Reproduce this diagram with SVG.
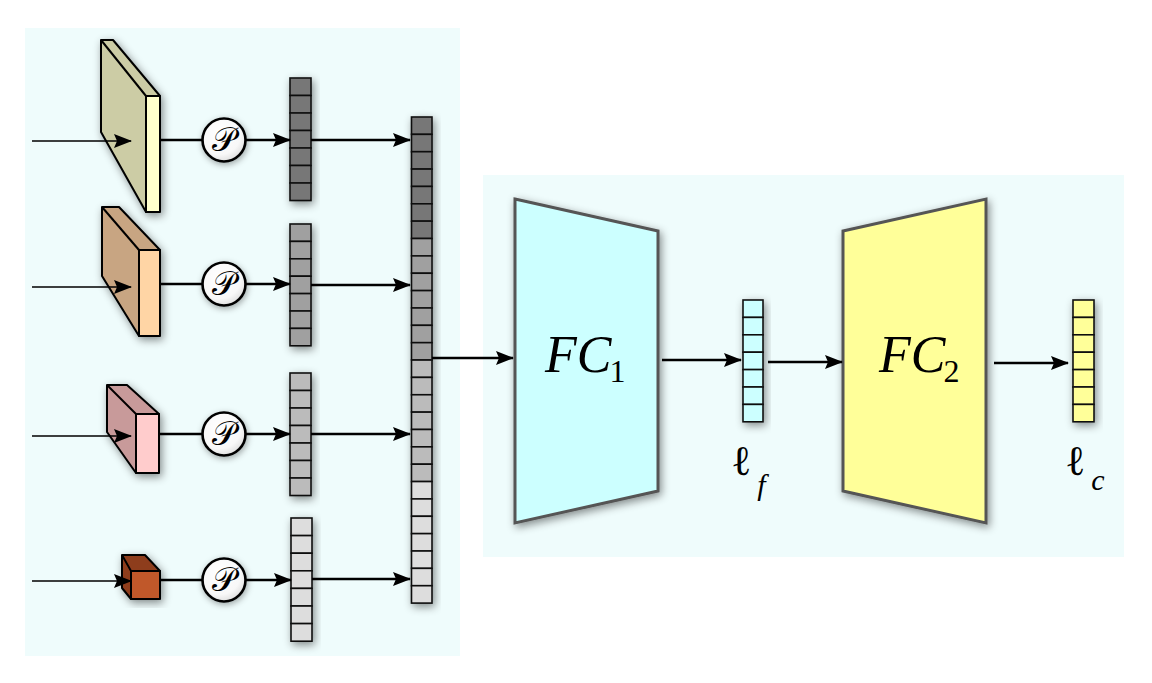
<svg xmlns="http://www.w3.org/2000/svg" width="1152" height="683" viewBox="0 0 1152 683">
<defs>
  <filter id="sh" x="-40%" y="-20%" width="180%" height="140%">
    <feDropShadow dx="2" dy="3" stdDeviation="4" flood-color="#000" flood-opacity="0.45"/>
  </filter>
  <filter id="shs" x="-40%" y="-40%" width="180%" height="180%">
    <feDropShadow dx="1" dy="2" stdDeviation="3" flood-color="#000" flood-opacity="0.35"/>
  </filter>
  <radialGradient id="cg" cx="40%" cy="35%" r="70%">
    <stop offset="0" stop-color="#ffffff"/>
    <stop offset="0.7" stop-color="#f8f8f8"/>
    <stop offset="1" stop-color="#dcdcdc"/>
  </radialGradient>
  <marker id="ahb" markerWidth="18" markerHeight="16" refX="17" refY="8" orient="auto" markerUnits="userSpaceOnUse" viewBox="0 0 18 16">
    <path d="M0,1 L18,8 L0,15 L3,8 Z" fill="#000"/>
  </marker>
</defs>
<style>
  .bg{fill:#effcfc}
  .blk{stroke:#000;stroke-width:2;stroke-linejoin:round}
  .cell{stroke:#111;stroke-width:1.6}
  .ln{stroke:#000;stroke-width:2.6;fill:none}
  .ln1{stroke:#000;stroke-width:1.6;fill:none}
  .pc{fill:url(#cg);stroke:#000;stroke-width:2.6}
  .trap{stroke:#555;stroke-width:3;stroke-linejoin:miter}
  .ser{font-family:'Liberation Serif','DejaVu Serif',serif;fill:#000}
  .pp{font-family:'DejaVu Serif','Liberation Serif',serif;font-size:33px;fill:#000}
</style>

<rect class="bg" x="25" y="28" width="435" height="628"/>
<rect class="bg" x="483" y="175" width="641" height="382"/>

<!-- blocks -->
<g id="block1" filter="url(#sh)">
  <polygon class="blk" fill="#cccca5" points="101,40 113,40 160,96 146,96 146,212 101,132"/>
  <line class="blk" x1="101" y1="40" x2="146" y2="96"/>
  <rect class="blk" fill="#ffffcc" x="146" y="96" width="14" height="116"/>
</g>
<g id="block2" filter="url(#sh)">
  <polygon class="blk" fill="#c8a582" points="102,207 119,207 160,250 139,250 139,336 102,276"/>
  <line class="blk" x1="102" y1="207" x2="139" y2="250"/>
  <rect class="blk" fill="#ffd5a5" x="139" y="250" width="21" height="86"/>
</g>
<g id="block3" filter="url(#sh)">
  <polygon class="blk" fill="#c89a9a" points="107,385 127,385 159,414 136,414 136,473 107,432"/>
  <line class="blk" x1="107" y1="385" x2="136" y2="414"/>
  <rect class="blk" fill="#ffcccc" x="136" y="414" width="23" height="59"/>
</g>
<g id="block4" filter="url(#sh)">
  <polygon class="blk" fill="#8e3d1f" points="122,555 145,555 160,571 131,571 131,599 122,588"/>
  <line class="blk" x1="122" y1="555" x2="131" y2="571"/>
  <rect class="blk" fill="#c0582a" x="131" y="571" width="29" height="28"/>
</g>

<!-- pooling circles -->
<g id="pool1"><circle class="pc" cx="224" cy="140" r="21.5" filter="url(#shs)"/><text class="pp" x="224" y="151" text-anchor="middle">𝒫</text></g>
<g id="pool2"><circle class="pc" cx="224" cy="284" r="21.5" filter="url(#shs)"/><text class="pp" x="224" y="295" text-anchor="middle">𝒫</text></g>
<g id="pool3"><circle class="pc" cx="224" cy="434" r="21.5" filter="url(#shs)"/><text class="pp" x="224" y="445" text-anchor="middle">𝒫</text></g>
<g id="pool4"><circle class="pc" cx="224" cy="580" r="21.5" filter="url(#shs)"/><text class="pp" x="224" y="591" text-anchor="middle">𝒫</text></g>

<!-- vectors -->
<g id="vec1" filter="url(#sh)" fill="#777777">
  <rect class="cell" x="290" y="78" width="21" height="17.5"/><rect class="cell" x="290" y="95.5" width="21" height="17.5"/><rect class="cell" x="290" y="113" width="21" height="17.5"/><rect class="cell" x="290" y="130.5" width="21" height="17.5"/><rect class="cell" x="290" y="148" width="21" height="17.5"/><rect class="cell" x="290" y="165.5" width="21" height="17.5"/><rect class="cell" x="290" y="183" width="21" height="17.5"/>
</g>
<g id="vec2" filter="url(#sh)" fill="#a0a0a0">
  <rect class="cell" x="290" y="224" width="21" height="17.4"/><rect class="cell" x="290" y="241.4" width="21" height="17.4"/><rect class="cell" x="290" y="258.8" width="21" height="17.4"/><rect class="cell" x="290" y="276.2" width="21" height="17.4"/><rect class="cell" x="290" y="293.6" width="21" height="17.4"/><rect class="cell" x="290" y="311" width="21" height="17.4"/><rect class="cell" x="290" y="328.4" width="21" height="17.4"/>
</g>
<g id="vec3" filter="url(#sh)" fill="#bbbbbb">
  <rect class="cell" x="290" y="373" width="21" height="17.5"/><rect class="cell" x="290" y="390.5" width="21" height="17.5"/><rect class="cell" x="290" y="408" width="21" height="17.5"/><rect class="cell" x="290" y="425.5" width="21" height="17.5"/><rect class="cell" x="290" y="443" width="21" height="17.5"/><rect class="cell" x="290" y="460.5" width="21" height="17.5"/><rect class="cell" x="290" y="478" width="21" height="17.5"/>
</g>
<g id="vec4" filter="url(#sh)" fill="#dddddd">
  <rect class="cell" x="291" y="518" width="21" height="17.6"/><rect class="cell" x="291" y="535.6" width="21" height="17.6"/><rect class="cell" x="291" y="553.2" width="21" height="17.6"/><rect class="cell" x="291" y="570.8" width="21" height="17.6"/><rect class="cell" x="291" y="588.4" width="21" height="17.6"/><rect class="cell" x="291" y="606" width="21" height="17.6"/><rect class="cell" x="291" y="623.6" width="21" height="17.6"/>
</g>

<!-- concatenated vector -->
<g id="concat" filter="url(#sh)">
  <g fill="#777777">
    <rect class="cell" x="411.5" y="117" width="20.5" height="17.36"/><rect class="cell" x="411.5" y="134.36" width="20.5" height="17.36"/><rect class="cell" x="411.5" y="151.72" width="20.5" height="17.36"/><rect class="cell" x="411.5" y="169.08" width="20.5" height="17.36"/><rect class="cell" x="411.5" y="186.44" width="20.5" height="17.36"/><rect class="cell" x="411.5" y="203.8" width="20.5" height="17.36"/><rect class="cell" x="411.5" y="221.16" width="20.5" height="17.36"/>
  </g>
  <g fill="#a0a0a0">
    <rect class="cell" x="411.5" y="238.52" width="20.5" height="17.36"/><rect class="cell" x="411.5" y="255.88" width="20.5" height="17.36"/><rect class="cell" x="411.5" y="273.24" width="20.5" height="17.36"/><rect class="cell" x="411.5" y="290.6" width="20.5" height="17.36"/><rect class="cell" x="411.5" y="307.96" width="20.5" height="17.36"/><rect class="cell" x="411.5" y="325.32" width="20.5" height="17.36"/><rect class="cell" x="411.5" y="342.68" width="20.5" height="17.36"/>
  </g>
  <g fill="#bbbbbb">
    <rect class="cell" x="411.5" y="360.04" width="20.5" height="17.36"/><rect class="cell" x="411.5" y="377.4" width="20.5" height="17.36"/><rect class="cell" x="411.5" y="394.76" width="20.5" height="17.36"/><rect class="cell" x="411.5" y="412.12" width="20.5" height="17.36"/><rect class="cell" x="411.5" y="429.48" width="20.5" height="17.36"/><rect class="cell" x="411.5" y="446.84" width="20.5" height="17.36"/><rect class="cell" x="411.5" y="464.2" width="20.5" height="17.36"/>
  </g>
  <g fill="#dddddd">
    <rect class="cell" x="411.5" y="481.56" width="20.5" height="17.36"/><rect class="cell" x="411.5" y="498.92" width="20.5" height="17.36"/><rect class="cell" x="411.5" y="516.28" width="20.5" height="17.36"/><rect class="cell" x="411.5" y="533.64" width="20.5" height="17.36"/><rect class="cell" x="411.5" y="551" width="20.5" height="17.36"/><rect class="cell" x="411.5" y="568.36" width="20.5" height="17.36"/><rect class="cell" x="411.5" y="585.72" width="20.5" height="17.36"/>
  </g>
</g>

<!-- FC1 -->
<g id="fc1">
  <polygon class="trap" fill="#ccffff" points="515,199 658,231 658,491 515,523" filter="url(#sh)"/>
  <text class="ser" font-style="italic" font-size="52" x="545" y="372">FC<tspan font-style="normal" font-size="32" dx="-2" dy="10">1</tspan></text>
</g>

<!-- feature vector -->
<g id="vecf" filter="url(#sh)" fill="#ccffff">
  <rect class="cell" x="743" y="300" width="20" height="17.4"/><rect class="cell" x="743" y="317.4" width="20" height="17.4"/><rect class="cell" x="743" y="334.8" width="20" height="17.4"/><rect class="cell" x="743" y="352.2" width="20" height="17.4"/><rect class="cell" x="743" y="369.6" width="20" height="17.4"/><rect class="cell" x="743" y="387" width="20" height="17.4"/><rect class="cell" x="743" y="404.4" width="20" height="17.4"/>
</g>
<g id="labelf"><text class="ser" font-size="42" x="731" y="475">ℓ<tspan font-style="italic" font-size="30" dx="6" dy="20">f</tspan></text></g>

<!-- FC2 -->
<g id="fc2">
  <polygon class="trap" fill="#ffff99" points="843,231 986,199 986,523 843,491" filter="url(#sh)"/>
  <text class="ser" font-style="italic" font-size="52" x="879" y="372">FC<tspan font-style="normal" font-size="32" dx="-2" dy="10">2</tspan></text>
</g>

<!-- class vector -->
<g id="vecc" filter="url(#sh)" fill="#ffff99">
  <rect class="cell" x="1073" y="300" width="21" height="17.4"/><rect class="cell" x="1073" y="317.4" width="21" height="17.4"/><rect class="cell" x="1073" y="334.8" width="21" height="17.4"/><rect class="cell" x="1073" y="352.2" width="21" height="17.4"/><rect class="cell" x="1073" y="369.6" width="21" height="17.4"/><rect class="cell" x="1073" y="387" width="21" height="17.4"/><rect class="cell" x="1073" y="404.4" width="21" height="17.4"/>
</g>
<g id="labelc"><text class="ser" font-size="42" x="1065" y="475">ℓ<tspan font-style="italic" font-size="30" dx="6" dy="15">c</tspan></text></g>

<!-- connectors -->
<g id="connectors">
  <line class="ln1" x1="32" y1="141" x2="131" y2="141" marker-end="url(#ahb)"/>
  <line class="ln1" x1="32" y1="287" x2="131" y2="287" marker-end="url(#ahb)"/>
  <line class="ln1" x1="32" y1="436" x2="131" y2="436" marker-end="url(#ahb)"/>
  <line class="ln1" x1="32" y1="581" x2="131" y2="581" marker-end="url(#ahb)"/>

  <line class="ln" x1="160" y1="140" x2="202.5" y2="140"/>
  <line class="ln" x1="160" y1="284" x2="202.5" y2="284"/>
  <line class="ln" x1="159" y1="434" x2="202.5" y2="434"/>
  <line class="ln" x1="160" y1="580" x2="202.5" y2="580"/>

  <line class="ln" x1="245.5" y1="140" x2="290" y2="140" marker-end="url(#ahb)"/>
  <line class="ln" x1="245.5" y1="284" x2="290" y2="284" marker-end="url(#ahb)"/>
  <line class="ln" x1="245.5" y1="434" x2="290" y2="434" marker-end="url(#ahb)"/>
  <line class="ln" x1="245.5" y1="580" x2="291" y2="580" marker-end="url(#ahb)"/>

  <line class="ln" x1="311" y1="140" x2="410" y2="140" marker-end="url(#ahb)"/>
  <line class="ln" x1="311" y1="285" x2="410" y2="285" marker-end="url(#ahb)"/>
  <line class="ln" x1="311" y1="434" x2="410" y2="434" marker-end="url(#ahb)"/>
  <line class="ln" x1="312" y1="579" x2="410" y2="579" marker-end="url(#ahb)"/>

  <line class="ln" x1="432" y1="358" x2="513" y2="358" marker-end="url(#ahb)"/>
  <line class="ln" x1="662" y1="360" x2="741" y2="360" marker-end="url(#ahb)"/>
  <line class="ln" x1="768" y1="362" x2="842" y2="362" marker-end="url(#ahb)"/>
  <line class="ln" x1="994" y1="363" x2="1068" y2="363" marker-end="url(#ahb)"/>
</g>
</svg>
